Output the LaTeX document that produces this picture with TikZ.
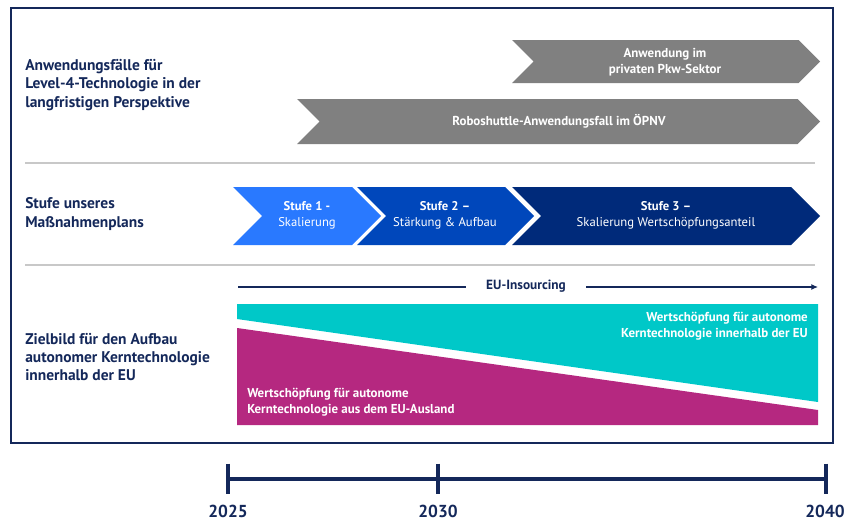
\documentclass[tikz,border=0pt]{standalone}
\usepackage{fontspec}
\setmainfont{PT Sans}
\usetikzlibrary{positioning,arrows.meta}
\definecolor{navy}{RGB}{20,40,90}
\definecolor{usegray}{RGB}{128,128,128}
\definecolor{sepgray}{RGB}{200,200,200}
\definecolor{stageA}{RGB}{41,121,255}
\definecolor{stageB}{RGB}{0,71,187}
\definecolor{stageC}{RGB}{0,42,122}
\definecolor{euteal}{RGB}{0,200,200}
\definecolor{extmag}{RGB}{181,40,128}
% chevron: colour, left x, tip x, top y, bottom y
\newcommand{\chevron}[5]{\fill[#1] (#2,#4) -- ({#3-(#5-#4)/2},#4) -- (#3,{(#4+#5)/2})
 -- ({#3-(#5-#4)/2},#5) -- (#2,#5) -- ({#2+(#5-#4)/2},{(#4+#5)/2}) -- cycle;}

\begin{document}
\begin{tikzpicture}[x=0.75pt,y=-0.75pt,font=\fontsize{9.5}{12}\selectfont,
 rowlab/.style={anchor=west,align=left,text=navy,inner sep=0pt,font=\fontsize{11.6}{13.6}\selectfont\bfseries},
 chevlab/.style={align=center,text=white,inner sep=0pt},
 barlab/.style={text=white,inner sep=0pt,font=\fontsize{9.7}{11.8}\selectfont\bfseries},
 sep/.style={draw=sepgray,line width=1.5pt},
 tl/.style={draw=navy,line width=3pt},
 year/.style={text=navy,inner sep=0pt,font=\fontsize{13}{15}\selectfont\bfseries},
 arr/.style={-{Latex[length=5pt,width=4.5pt]},navy,line width=0.9pt}]
\useasboundingbox (0,0) rectangle (847,521);
\draw[navy,line width=1.5pt] (11,8) rectangle (833,443);

% row labels and separators
\node[rowlab] (usecases) at (25,85) {Anwendungsfälle für\\Level-4-Technologie in der\\langfristigen Perspektive};
\node[rowlab] (plan) at (25,214) {Stufe unseres\\Maßnahmenplans};
\node[rowlab] (target) at (25,357) {Zielbild für den Aufbau\\autonomer Kerntechnologie\\innerhalb der EU};
\draw[sep] (25,163) -- (815,163);
\draw[sep] (25,265) -- (815,265);

% use cases
\chevron{usegray}{512}{820}{40}{83}
\chevron{usegray}{297}{820}{99}{144}
\node[chevlab,font=\fontsize{9.7}{12}\selectfont\bfseries] (pkw) at (665,62) {Anwendung im\\privaten Pkw-Sektor};
\node[chevlab,font=\fontsize{9.7}{12}\selectfont\bfseries] (shuttle) at (559,121) {Roboshuttle-Anwendungsfall im ÖPNV};

% stages
\chevron{stageA}{233}{381}{187}{245}
\chevron{stageB}{357}{534}{187}{245}
\chevron{stageC}{512}{820}{187}{245}
\node[chevlab] (st1) at (307,215) {\textbf{Stufe 1 -}\\Skalierung};
\node[chevlab] (st2) at (445,215) {\textbf{Stufe 2 –}\\Stärkung \& Aufbau};
\node[chevlab] (st3) at (666,215) {\textbf{Stufe 3 –}\\Skalierung Wertschöpfungsanteil};

% insourcing arrow
\coordinate (insL) at (238,287);
\coordinate (insR) at (818,287);
\node[text=navy,font=\bfseries,inner xsep=15pt,inner ysep=1pt] (ins) at (526,286) {EU-Insourcing};
\draw[navy,line width=0.9pt] (insL) -- (ins.west |- insL);
\draw[arr] (ins.east |- insR) -- (insR);

% value shares
\fill[euteal] (237,304) -- (818,304) -- (818,402) -- (237,319) -- cycle;
\fill[extmag] (237,328) -- (818,410) -- (818,425) -- (237,425) -- cycle;
\node[barlab,anchor=east,align=right] (inside) at (808,326) {Wertschöpfung für autonome\\Kerntechnologie innerhalb der EU};
\node[barlab,anchor=west,align=left] (abroad) at (247,402) {Wertschöpfung für autonome\\Kerntechnologie aus dem EU-Ausland};

% time line
\coordinate (t25) at (228,479);
\coordinate (t30) at (438,479);
\coordinate (t40) at (826,479);
\draw[tl] (t25) -- (t40);
\foreach \t in {t25,t30,t40} \draw[tl] ([yshift=11.6pt]\t) -- ([yshift=-11.6pt]\t);
\node[year] (y25) at (228,511) {2025};
\node[year] (y30) at (438,511) {2030};
\node[year] (y40) at (825,511) {2040};
\end{tikzpicture}
\end{document}
